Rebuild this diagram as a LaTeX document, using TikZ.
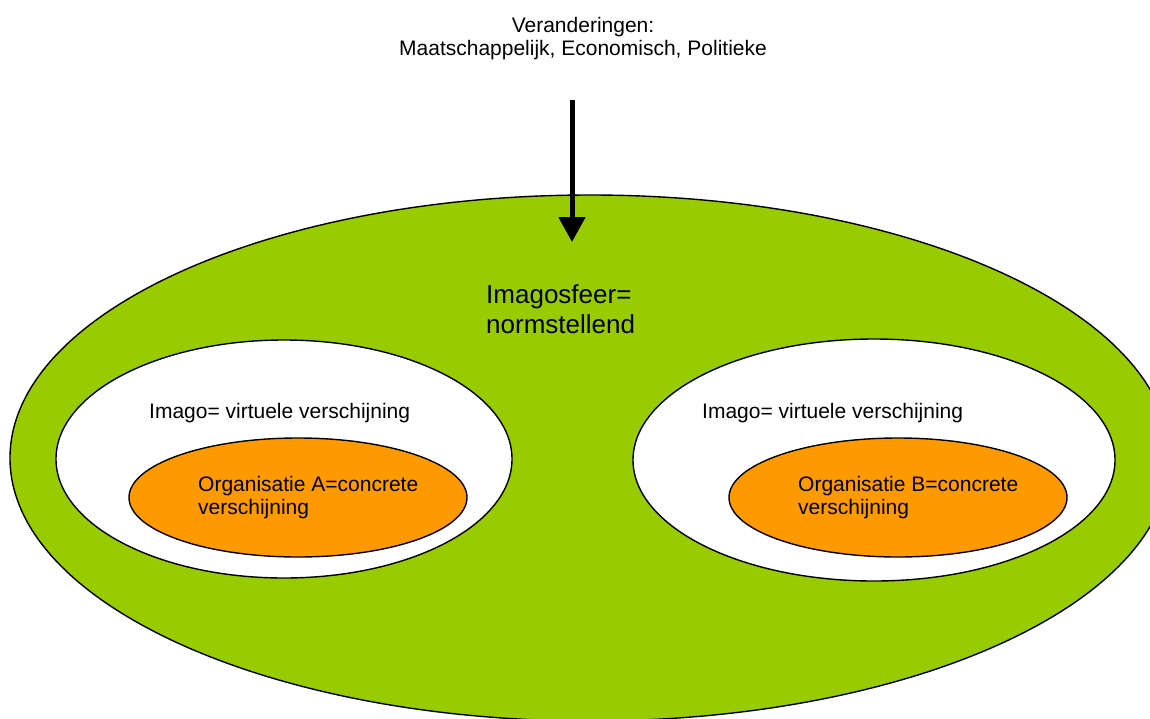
\documentclass[tikz,border=0pt]{standalone}
\usepackage{fontspec}
\setmainfont{Liberation Sans}
\usetikzlibrary{arrows.meta,shapes.geometric}
\definecolor{spheregreen}{HTML}{99CC00}
\definecolor{orgorange}{HTML}{FF9900}
\begin{document}
\begin{tikzpicture}[x=1pt,y=-1pt,
  oval/.style={ellipse, draw=black, line width=1.4pt, inner sep=0pt, outer sep=0pt},
  lbl/.style={inner sep=0pt, font=\fontsize{21}{23.5}\selectfont, align=left, anchor=base west},
  biglbl/.style={inner sep=0pt, font=\fontsize{26}{30}\selectfont, align=left, anchor=base west},
]
\useasboundingbox (0,0) rectangle (1150,718);

% outer sphere, cut off at the page edge
\begin{scope}
  \clip (0,0) rectangle (1150,718);
  \node[oval, fill=spheregreen, minimum width=1160pt, minimum height=526pt] (sphere) at (590,458) {};
\end{scope}

% virtual appearances
\node[oval, fill=white, minimum width=456pt, minimum height=238pt] (imagoA) at (284,459) {};
\node[oval, fill=white, minimum width=482pt, minimum height=242pt] (imagoB) at (874,460) {};

% concrete organisations
\node[oval, fill=orgorange, minimum width=338pt, minimum height=119pt] (orgA) at (298,497.5) {};
\node[oval, fill=orgorange, minimum width=338pt, minimum height=119pt] (orgB) at (898,497.5) {};

% labels (multi-line labels are placed by the baseline of their last line)
\node[lbl, align=center, anchor=base] (changes) at (583,55.5) {Veranderingen:\\Maatschappelijk, Economisch, Politieke};
\node[biglbl] (spherelabel) at (486,333) {Imagosfeer=\\normstellend};
\node[lbl] (imagoAlabel) at (149,418) {Imago= virtuele verschijning};
\node[lbl] (imagoBlabel) at (702,418) {Imago= virtuele verschijning};
\node[lbl] (orgAlabel) at (198,514.5) {Organisatie A=concrete\\verschijning};
\node[lbl] (orgBlabel) at (798,514.5) {Organisatie B=concrete\\verschijning};

% influence arrow
\coordinate (arrowstart) at (572,100);
\coordinate (arrowtip) at (572,242);
\draw[line width=5pt, -{Triangle[length=25pt, width=26pt]}] (arrowstart) -- (arrowtip);
\end{tikzpicture}
\end{document}
